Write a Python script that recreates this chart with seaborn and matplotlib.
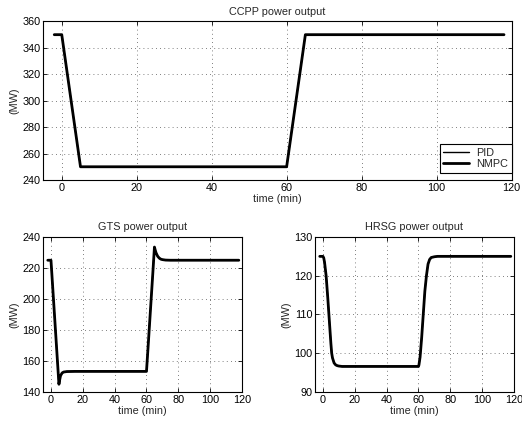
import matplotlib
matplotlib.use("Agg")
import matplotlib.pyplot as plt
import seaborn as sns
import pandas as pd

# ---- data ----
ccpp_t = [-2, 0, 5, 60, 65, 118]
ccpp_nmpc = [350, 350, 250, 250, 350, 350]
ccpp_pid = [350, 350, 250, 250, 350, 350]

gts_t = [-2, 0, 1, 2, 3, 4, 5, 5.5, 6, 7, 8, 10, 15, 60, 61, 62, 63, 64, 65,
         65.5, 66, 67, 68, 69, 70, 72, 75, 118]
gts_nmpc = [225, 225, 209, 193, 177, 161, 145, 148, 150.5, 152.3, 152.9, 153.2,
            153.3, 153.3, 169, 185, 201, 217, 233.5, 231.5, 229.8, 227.6, 226.4,
            225.7, 225.4, 225.1, 225, 225]
gts_pid = list(gts_nmpc)

hrsg_t = [-2, 0, 0.5, 1, 2, 3, 4, 5, 5.5, 6, 7, 8, 9, 10, 12, 15, 60, 60.3, 61,
          62, 63, 64, 65, 66, 67, 68, 70, 72, 118]
hrsg_nmpc = [125, 125, 124.6, 123.5, 120, 114.5, 108.5, 102.5, 100, 98.8, 97.5,
             97.0, 96.8, 96.7, 96.6, 96.6, 96.6, 97.0, 99, 104, 110, 116, 120,
             123, 124.2, 124.7, 124.9, 125, 125]
hrsg_pid = list(hrsg_nmpc)

titles = ["CCPP power output", "GTS power output", "HRSG power output"]
ylims = [(240, 360), (140, 240), (90, 130)]
yticks = [list(range(240, 361, 20)), list(range(140, 241, 20)), list(range(90, 131, 10))]
xticks = [0, 20, 40, 60, 80, 100, 120]

sns.set_theme(style="white")
plt.rcParams["font.family"] = ["Liberation Sans", "DejaVu Sans"]
FS = 7.8
plt.rcParams["font.size"] = FS

fig = plt.figure(figsize=(5.22, 4.25), dpi=100)
ax_top = fig.add_axes([0.0824, 0.5765, 0.8975, 0.373])
ax_bl = fig.add_axes([0.0824, 0.0776, 0.3812, 0.3648])
ax_br = fig.add_axes([0.6034, 0.0776, 0.3813, 0.3648])
axes = [ax_top, ax_bl, ax_br]

series = [(ccpp_t, ccpp_pid, ccpp_nmpc), (gts_t, gts_pid, gts_nmpc), (hrsg_t, hrsg_pid, hrsg_nmpc)]

for i, (ax, (t, pid, nmpc)) in enumerate(zip(axes, series)):
    df = pd.DataFrame({"t": t + t, "v": pid + nmpc,
                       "ctrl": ["PID"] * len(t) + ["NMPC"] * len(t)})
    sns.lineplot(data=df, x="t", y="v", hue="ctrl", size="ctrl",
                 sizes={"PID": 1.0, "NMPC": 2.0},
                 palette={"PID": "black", "NMPC": "black"},
                 ax=ax, legend=(i == 0), sort=False, estimator=None)
    ax.set_xlim(-5, 120)
    ax.set_ylim(*ylims[i])
    ax.set_xticks(xticks)
    ax.set_yticks(yticks[i])
    ax.set_title(titles[i], fontsize=FS, pad=5)
    ax.set_xlabel("time (min)", fontsize=FS, labelpad=1)
    ax.set_ylabel("(MW)", fontsize=FS, labelpad=2)
    ax.grid(True, linestyle=(0, (1, 4)), color="#555555", linewidth=0.6)
    ax.tick_params(direction="in", length=3, width=0.6, labelsize=FS,
                   top=True, right=True, bottom=True, left=True, pad=2, colors="black")
    for s in ax.spines.values():
        s.set_visible(True)
        s.set_color("black")
        s.set_linewidth(0.8)

leg = ax_top.legend(loc="lower right", bbox_to_anchor=(1.0, 0.044), frameon=True,
                    fancybox=False, fontsize=FS, edgecolor="black", framealpha=1,
                    borderaxespad=0.0, handlelength=2.4, borderpad=0.35,
                    labelspacing=0.15, handletextpad=0.6)
leg.get_frame().set_linewidth(0.8)

fig.savefig("out.png", dpi=100)
